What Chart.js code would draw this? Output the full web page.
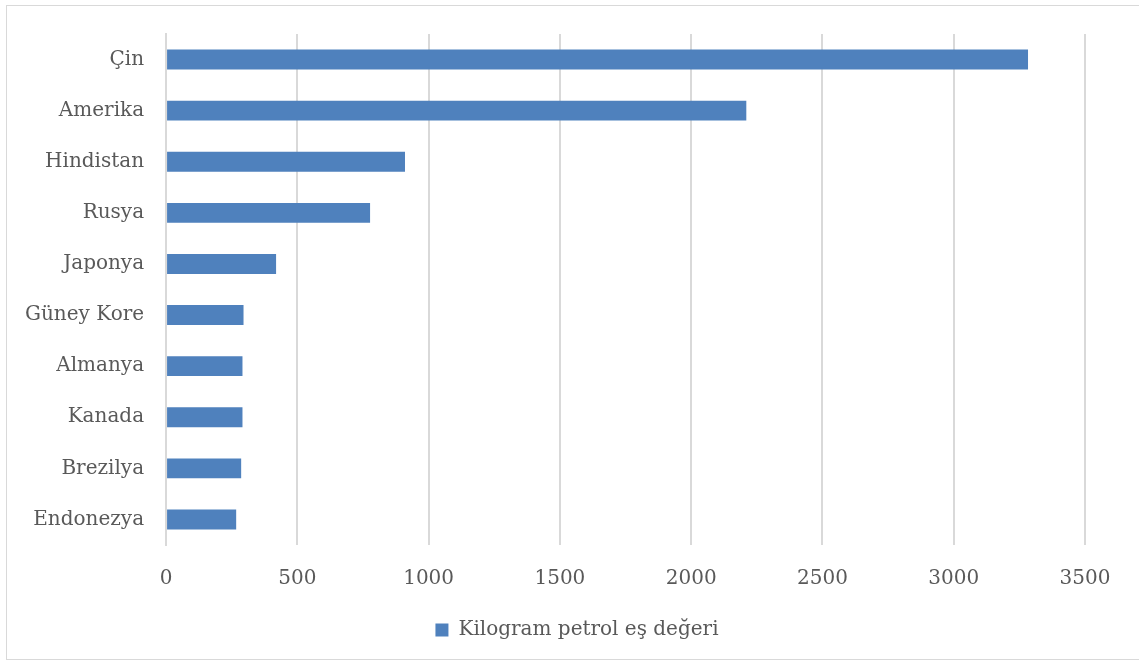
<!DOCTYPE html>
<html>
<head>
<meta charset="utf-8">
<script src="https://cdn.jsdelivr.net/npm/chart.js@4"></script>
<style>
  body { margin: 0; background: #fff; }
  #wrap { position: absolute; left: 0; top: 0; width: 1139px; height: 662px; }
</style>
</head>
<body>
<div id="wrap"><canvas id="barchart"></canvas></div>
<script>
// countries and energy consumption (kg oil equivalent)
var countries = ["Çin", "Amerika", "Hindistan", "Rusya", "Japonya", "Güney Kore", "Almanya", "Kanada", "Brezilya", "Endonezya"];
var values = [3283, 2210, 910, 777, 419, 295, 291, 291, 286, 267];
var seriesName = "Kilogram petrol eş değeri";

// light frame around the whole chart, legend nudged to the right like Excel does
var frame = {
    id: "frame",
    afterLayout(chart) {
        chart.legend.left += 33;
        chart.legend.right += 33;
    },
    beforeDraw(chart) {
        const c = chart.ctx;
        c.save();
        c.strokeStyle = "#d9d9d9";
        c.lineWidth = 1;
        c.strokeRect(6.5, 5.5, 1140, 654);
        c.restore();
    }
};

const ctx = document.getElementById("barchart").getContext("2d");

const config = {
    type: "bar",
    data: {
        labels: countries,
        datasets: [
            {
                label: seriesName,
                data: values,
                backgroundColor: "#4f81bd",
                barPercentage: 0.78,
                categoryPercentage: 0.5
            }
        ]
    },
    options: {
        indexAxis: "y",
        responsive: false,
        animation: false,
        layout: {
            padding: { left: 3, right: 54, top: 33, bottom: 12 }
        },
        scales: {
            x: {
                min: 0,
                max: 3500,
                ticks: {
                    stepSize: 500,
                    color: "#595959",
                    font: { family: "DejaVu Serif", size: 20 },
                    padding: 22,
                    callback: function(v) { return String(v); }
                },
                grid: {
                    color: "#d9d9d9",
                    lineWidth: 2,
                    drawTicks: false
                },
                border: { display: false }
            },
            y: {
                ticks: {
                    color: "#595959",
                    font: { family: "DejaVu Serif", size: 20 },
                    padding: 22
                },
                grid: { display: false, drawTicks: false },
                border: { display: true, color: "#d9d9d9", width: 2 }
            }
        },
        plugins: {
            legend: {
                position: "bottom",
                labels: {
                    color: "#595959",
                    font: { family: "DejaVu Serif", size: 20 },
                    boxWidth: 13,
                    boxHeight: 13,
                    padding: 7
                }
            },
            tooltip: { enabled: false }
        }
    },
    plugins: [frame]
};

var canvas = document.getElementById("barchart");
canvas.width = 1139;
canvas.height = 662;
var barChart = new Chart(ctx, config);
</script>
</body>
</html>
